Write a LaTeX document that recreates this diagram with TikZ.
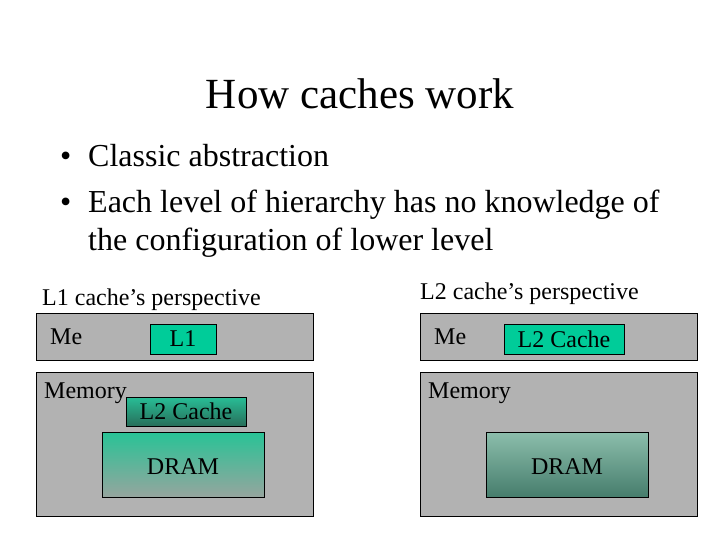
\documentclass[tikz,border=0pt]{standalone}
\usepackage{fontspec}
\setmainfont{Liberation Serif}
\begin{document}
\begin{tikzpicture}[x=1pt,y=-1pt,
  gbox/.style={draw=black,fill=panelgray},
  tbox/.style={draw=black,fill=teal1,font=\fontsize{24}{26}\selectfont},
  lbl/.style={anchor=base west,inner sep=0pt,font=\fontsize{24}{26}\selectfont},
  bul/.style={anchor=base west,inner sep=0pt,font=\fontsize{32}{36}\selectfont}]
\definecolor{panelgray}{RGB}{178,178,178}
\definecolor{teal1}{RGB}{0,204,153}
\definecolor{tealtop}{RGB}{40,190,150}
\definecolor{tealbot}{RGB}{40,110,90}
\definecolor{dramtop}{RGB}{40,195,150}
\definecolor{drambot}{RGB}{150,165,158}
\definecolor{dram2top}{RGB}{140,190,172}
\definecolor{dram2bot}{RGB}{70,125,108}
\useasboundingbox (0,0) rectangle (720,540);
\node[anchor=base,font=\fontsize{43}{46}\selectfont] (title) at (360,109) {How caches work};
\node[bul] (bl1) at (60,167) {•};
\node[bul] (b1) at (88,167) {Classic abstraction};
\node[bul] (bl2) at (60,213) {•};
\node[bul] (b2) at (88,213) {Each level of hierarchy has no knowledge of};
\node[bul] (b3) at (88,251) {the configuration of lower level};
% left
\node[lbl] (p1) at (42,305) {L1 cache’s perspective};
\draw[gbox] (36,313) rectangle (313,360);
\draw[gbox] (36,372) rectangle (313,516);
\node[lbl] (me1) at (50,344) {Me};
\node[lbl] (mem1) at (44,398) {Memory};
\node[tbox,minimum width=66pt,minimum height=30pt,inner sep=0pt] (l1) at (183,339) {L1};
\node[draw=black,top color=tealtop,bottom color=tealbot,minimum width=120pt,minimum height=29pt,inner sep=0pt,font=\fontsize{24}{26}\selectfont] (l2a) at (186,411.5) {L2 Cache};
\node[draw=black,top color=dramtop,bottom color=drambot,minimum width=162pt,minimum height=65pt] (dram1) at (183,464.5) {};
\node[lbl,anchor=base] (d1t) at (183,474) {DRAM};
% right
\node[lbl] (p2) at (420,299) {L2 cache’s perspective};
\draw[gbox] (420,313) rectangle (697,360);
\draw[gbox] (420,372) rectangle (697,516);
\node[lbl] (me2) at (434,344) {Me};
\node[lbl] (mem2) at (428,398) {Memory};
\node[tbox,minimum width=120pt,minimum height=30pt,inner sep=0pt] (l2b) at (564,339) {L2 Cache};
\node[draw=black,top color=dram2top,bottom color=dram2bot,minimum width=162pt,minimum height=65pt] (dram2) at (567,464.5) {};
\node[lbl,anchor=base] (d2t) at (567,474) {DRAM};
\end{tikzpicture}
\end{document}
